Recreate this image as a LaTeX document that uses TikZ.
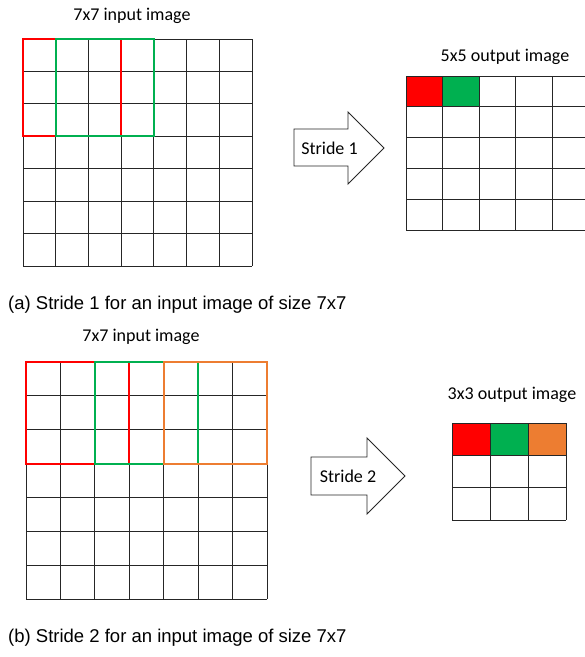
\documentclass[tikz,border=0pt]{standalone}
\usepackage{fontspec}
\setmainfont{Carlito}
\newfontfamily\captionfont{Liberation Sans}
\usepackage{xcolor}
\usepackage{tikz}
\usetikzlibrary{positioning}
\definecolor{winRed}{HTML}{FF0000}
\definecolor{winGreen}{HTML}{00B050}
\definecolor{winOrange}{HTML}{ED7D31}
\tikzset{
    gridline/.style={line width=0.9pt, draw=black!85},
    winred/.style={line width=2pt, draw=winRed},
    wingreen/.style={line width=2pt, draw=winGreen},
    winorange/.style={line width=2pt, draw=winOrange},
    gridlabel/.style={inner sep=0pt, font=\fontsize{18}{20}\selectfont},
    captionlabel/.style={inner sep=0pt, anchor=west,
        font=\captionfont\fontsize{18.5}{21}\selectfont},
    stridearrow/.style={draw=black!85, line width=0.9pt, fill=white, line join=miter},
}

\begin{document}
\begin{tikzpicture}[x=1pt, y=-1pt]
    \useasboundingbox (0,0) rectangle (585,657);

    % --- (a) Input image 7x7 ------------------------------------------------------
    \node[gridlabel] (inA) at (132,16) {7x7 input image};
    \begin{scope}[shift={(23,39)}, x=32.71pt, y=-32.43pt]
        \foreach \i in {0,...,7} {
            \draw[gridline] (\i,0) -- (\i,7);
            \draw[gridline] (0,\i) -- (7,\i);
        }
        \draw[winred] (0,0) rectangle (3,3);
        \draw[wingreen] (1,0) rectangle (4,3);
    \end{scope}

    % --- (a) Stride arrow ---------------------------------------------------------
    \draw[stridearrow] (294,129) -- (348,129) -- (348,112) -- (384,148)
        -- (348,184) -- (348,166) -- (294,166) -- cycle;
    \node[gridlabel] (strideA) at (329.5,148) {Stride 1};

    % --- (a) Output image 5x5 -----------------------------------------------------
    \node[gridlabel] (outA) at (505,57) {5x5 output image};
    \begin{scope}[shift={(406,76)}, x=36.5pt, y=-30.8pt]
        \fill[winRed] (0,0) rectangle (1,1);
        \fill[winGreen] (1,0) rectangle (2,1);
        \foreach \i in {0,...,5} {
            \draw[gridline] (\i,0) -- (\i,5);
            \draw[gridline] (0,\i) -- (5,\i);
        }
    \end{scope}

    \node[captionlabel] (capA) at (8,305) {(a) Stride 1 for an input image of size 7x7};

    % --- (b) Input image 7x7 ------------------------------------------------------
    \node[gridlabel] (inB) at (141,337) {7x7 input image};
    \begin{scope}[shift={(26,362)}, x=34.43pt, y=-33.86pt]
        \foreach \i in {0,...,7} {
            \draw[gridline] (\i,0) -- (\i,7);
            \draw[gridline] (0,\i) -- (7,\i);
        }
        \draw[winred] (0,0) rectangle (3,3);
        \draw[wingreen] (2,0) rectangle (5,3);
        \draw[winorange] (4,0) rectangle (7,3);
    \end{scope}

    % --- (b) Stride arrow ---------------------------------------------------------
    \draw[stridearrow] (311,457) -- (367,457) -- (367,438) -- (405,476)
        -- (367,514) -- (367,495) -- (311,495) -- cycle;
    \node[gridlabel] (strideB) at (348,476) {Stride 2};

    % --- (b) Output image 3x3 -----------------------------------------------------
    \node[gridlabel] (outB) at (512,395) {3x3 output image};
    \begin{scope}[shift={(452,423)}, x=38pt, y=-32.4pt]
        \fill[winRed] (0,0) rectangle (1,1);
        \fill[winGreen] (1,0) rectangle (2,1);
        \fill[winOrange] (2,0) rectangle (3,1);
        \foreach \i in {0,...,3} {
            \draw[gridline] (\i,0) -- (\i,3);
            \draw[gridline] (0,\i) -- (3,\i);
        }
    \end{scope}

    \node[captionlabel] (capB) at (8,638) {(b) Stride 2 for an input image of size 7x7};

\end{tikzpicture}
\end{document}
